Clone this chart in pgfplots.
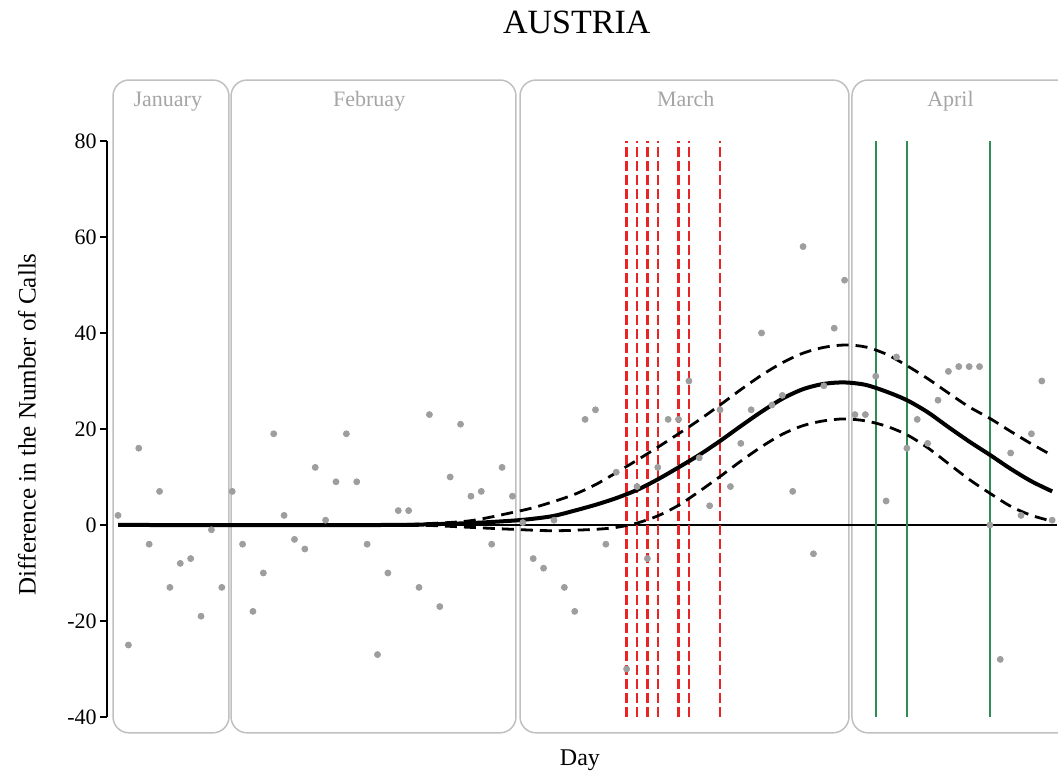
\documentclass[border=0pt]{standalone}
\usepackage{fontspec}
\setmainfont{Liberation Serif}
\usepackage{pgfplots}
\usepackage{pgfplotstable}
\pgfplotsset{compat=1.18}

\definecolor{boxgray}{RGB}{192,192,192}
\definecolor{ptgray}{RGB}{158,158,158}
\definecolor{monthgray}{RGB}{165,165,165}
\definecolor{redline}{RGB}{232,36,36}
\definecolor{greenline}{RGB}{48,140,82}

% daily difference in calls, day 0 = 21 January
\pgfplotstableread{
day diff
0 2
1 -25
2 16
3 -4
4 7
5 -13
6 -8
7 -7
8 -19
9 -1
10 -13
11 7
12 -4
13 -18
14 -10
15 19
16 2
17 -3
18 -5
19 12
20 1
21 9
22 19
23 9
24 -4
25 -27
26 -10
27 3
28 3
29 -13
30 23
31 -17
32 10
33 21
34 6
35 7
36 -4
37 12
38 6
39 0.5
40 -7
41 -9
42 1
43 -13
44 -18
45 22
46 24
47 -4
48 11
49 -30
50 8
51 -7
52 12
53 22
54 22
55 30
56 14
57 4
58 24
59 8
60 17
61 24
62 40
63 25
64 27
65 7
66 58
67 -6
68 29
69 41
70 51
71 23
72 23
73 31
74 5
75 35
76 16
77 22
78 17
79 26
80 32
81 33
82 33
83 33
84 0
85 -28
86 15
87 2
88 19
89 30
90 1
}\calls

\begin{document}
\begin{tikzpicture}
\begin{axis}[
    scale only axis, width=475.5pt, height=288pt,
    xmin=-1.06, xmax=90.56, ymin=-40, ymax=80,
    axis x line=none, axis y line*=left,
    y axis line style={-, line width=1pt},
    ytick={-40,-20,0,20,40,60,80},
    ytick style={line width=1pt, black},
    tick align=outside, major tick length=3.5pt,
    yticklabel style={font=\fontsize{11}{13}\selectfont, inner xsep=1.5pt},
    /pgf/number format/assume math mode=true,
    clip=false,
]
% month panels
\draw[boxgray, line width=0.75pt, rounded corners=8pt] (axis cs:-0.48,-43.3) rectangle (axis cs:10.69,92.7);
\draw[boxgray, line width=0.75pt, rounded corners=8pt] (axis cs:10.89,-43.3) rectangle (axis cs:38.34,92.7);
\draw[boxgray, line width=0.75pt, rounded corners=8pt] (axis cs:38.73,-43.3) rectangle (axis cs:70.42,92.7);
\draw[boxgray, line width=0.75pt, rounded corners=8pt] (axis cs:90.56,92.7) -- (axis cs:70.71,92.7) -- (axis cs:70.71,-43.3) -- (axis cs:90.56,-43.3);
\node[monthgray, anchor=base, font=\fontsize{11}{13}\selectfont] at (axis cs:4.8,87.2) {January};
\node[monthgray, anchor=base, font=\fontsize{11}{13}\selectfont] at (axis cs:24.2,87.2) {Februay};
\node[monthgray, anchor=base, font=\fontsize{11}{13}\selectfont] at (axis cs:54.7,87.2) {March};
\node[monthgray, anchor=base, font=\fontsize{11}{13}\selectfont] at (axis cs:80.2,87.2) {April};

% zero line
\addplot[black, line width=1pt] coordinates {(0,0) (90.5,0)};

% measures (red) and relaxations (green)
\addplot[redline, line width=1.2pt, dash pattern=on 5pt off 2pt] coordinates {(49,-40) (49,80)};
\addplot[redline, line width=1.2pt, dash pattern=on 5pt off 2pt] coordinates {(50,-40) (50,80)};
\addplot[redline, line width=1.2pt, dash pattern=on 5pt off 2pt] coordinates {(51,-40) (51,80)};
\addplot[redline, line width=1.2pt, dash pattern=on 5pt off 2pt] coordinates {(52,-40) (52,80)};
\addplot[redline, line width=1.2pt, dash pattern=on 5pt off 2pt] coordinates {(54,-40) (54,80)};
\addplot[redline, line width=1.2pt, dash pattern=on 5pt off 2pt] coordinates {(55,-40) (55,80)};
\addplot[redline, line width=1.2pt, dash pattern=on 5pt off 2pt] coordinates {(58,-40) (58,80)};
\addplot[greenline, line width=1.2pt] coordinates {(73,-40) (73,80)};
\addplot[greenline, line width=1.2pt] coordinates {(76,-40) (76,80)};
\addplot[greenline, line width=1.2pt] coordinates {(84,-40) (84,80)};

% observations
\addplot[only marks, mark=*, mark size=1.5pt, ptgray, mark options={draw=none, fill=ptgray}] table[x=day, y=diff] {\calls};

% fitted curve and band
\addplot[black, line width=2pt, smooth] coordinates {
 (0,0) (26,0) (30,0.15) (34,0.4) (38,0.9) (40,1.3) (42,1.9) (44,3.0) (46,4.2) (48,5.6)
 (50,7.3) (52,9.5) (54,12.0) (56,14.6) (58,17.5) (60,20.6) (62,23.6) (64,26.3) (66,28.3)
 (68,29.4) (70,29.7) (72,29.2) (74,27.8) (76,26.0) (78,23.5) (80,20.4) (82,17.4) (84,14.6)
 (86,11.7) (88,9.1) (90,7.0)};
\addplot[black, line width=1.4pt, dash pattern=on 6pt off 3.5pt, smooth] coordinates {
 (26,0) (30,0.3) (34,0.9) (38,2.6) (40,3.6) (42,4.9) (44,6.4) (46,8.4) (48,10.9) (50,13.5)
 (52,16.2) (54,19.0) (56,21.9) (58,25.0) (60,28.2) (62,31.2) (64,33.8) (66,35.8) (68,37.0)
 (70,37.5) (72,37.1) (74,35.6) (76,33.2) (78,30.5) (80,27.5) (82,24.6) (84,22.2) (86,19.5)
 (88,16.9) (90,14.5)};
\addplot[black, line width=1.4pt, dash pattern=on 6pt off 3.5pt, smooth] coordinates {
 (26,0) (30,-0.1) (34,-0.5) (38,-0.9) (42,-1.2) (46,-0.9) (48,-0.5) (50,0.4) (52,1.9)
 (54,4.1) (56,7.0) (58,10.1) (60,13.3) (62,16.3) (64,18.9) (66,20.7) (68,21.7) (70,22.1)
 (72,21.7) (74,20.6) (76,18.8) (78,16.1) (80,12.8) (82,9.5) (84,6.6) (86,3.9) (88,2.0)
 (90,0.8)};

% titles
\node[font=\fontsize{17}{20}\selectfont] at (axis cs:44.2,104.8) {AUSTRIA};
\node[rotate=90, font=\fontsize{12.5}{15}\selectfont] at (axis cs:-8.77,21) {Difference in the Number of Calls};
\node[font=\fontsize{12}{14}\selectfont] at (axis cs:44.5,-49) {Day};

\coordinate (bbsw) at (axis cs:-11.37,-51.67);
\coordinate (bbne) at (axis cs:90.56,109.375);
\end{axis}
\pgfresetboundingbox
\path[use as bounding box] (bbsw) rectangle (bbne);
\end{tikzpicture}
\end{document}
